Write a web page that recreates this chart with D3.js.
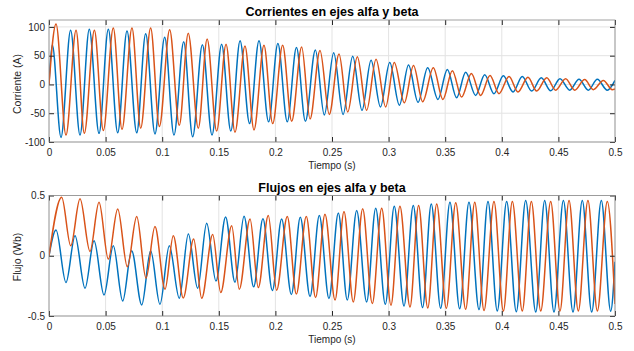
<!DOCTYPE html>
<html>
<head>
<meta charset="utf-8">
<script src="https://d3js.org/d3.v7.min.js"></script>
<style>
  body { margin: 0; background: #fff; }
  svg { display: block; font-family: 'Liberation Sans', Arial, Helvetica, sans-serif; }
  .tick text { fill: #262626; font-size: 10px; }
  .tick line { stroke: #262626; }
</style>
</head>
<body>
<script>
// extrema [t (s), value]; the curve joins them
const corrienteAlfa = [
  [0, 0], [0.0029, 69], [0.0106, -92], [0.0191, 94], [0.0274, -88], [0.0356, 96], [0.0442, -85],
  [0.0524, 96], [0.0607, -84], [0.0689, 93], [0.0775, -84], [0.0854, 88], [0.0936, -86],
  [0.1022, 82], [0.1104, -88], [0.1190, 74], [0.1269, -91], [0.1355, 69], [0.1440, -88],
  [0.1525, 70], [0.1606, -81], [0.1688, 76], [0.1772, -68], [0.1855, 76], [0.1940, -65],
  [0.2022, 71], [0.2105, -65], [0.2186, 64], [0.2265, -64], [0.2353, 60], [0.2432, -53],
  [0.2515, 55], [0.2598, -52], [0.2683, 49], [0.2765, -45], [0.2845, 42], [0.2928, -39],
  [0.3010, 38], [0.3095, -36], [0.3176, 34], [0.3260, -31], [0.3345, 29], [0.3436, -26],
  [0.3519, 26], [0.3601, -23], [0.3681, 21], [0.3769, -19], [0.3849, 17], [0.3931, -16],
  [0.4014, 15], [0.4099, -13], [0.4181, 14], [0.4264, -11.5], [0.4349, 11.5], [0.4432, -11],
  [0.4514, 10], [0.4600, -10], [0.4682, 9], [0.4764, -10], [0.4844, 9], [0.4932, -10], [0.5, 7]
]
const corrienteBeta = [
  [0, 0], [0.0062, 105], [0.0150, -88], [0.0239, 94], [0.0312, -85], [0.0401, 94], [0.0480, -80],
  [0.0568, 98], [0.0645, -78], [0.0733, 98], [0.0810, -76], [0.0898, 98], [0.0975, -73],
  [0.1066, 95], [0.1151, -71], [0.1230, 89], [0.1319, -76], [0.1397, 79], [0.1481, -81],
  [0.1564, 70], [0.1643, -83], [0.1731, 67], [0.1811, -79], [0.1899, 68], [0.1976, -68],
  [0.2064, 68], [0.2144, -64], [0.2232, 65], [0.2306, -60], [0.2394, 59], [0.2476, -52],
  [0.2562, 53], [0.2639, -48], [0.2724, 48], [0.2806, -45], [0.2889, 44], [0.2974, -39],
  [0.3050, 38], [0.3139, -32], [0.3220, 33], [0.3301, -30], [0.3395, 29], [0.3480, -26],
  [0.3563, 24], [0.3645, -22], [0.3731, 19], [0.3813, -19], [0.3896, 15.5], [0.3975, -16],
  [0.4064, 14], [0.4143, -13], [0.4231, 12.5], [0.4308, -11.5], [0.4397, 11.5], [0.4476, -10],
  [0.4564, 10], [0.4644, -10], [0.4732, 8.5], [0.4808, -9], [0.4897, 7], [0.4976, -9], [0.5, -8]
]
const flujoAlfa = [
  [0, 0], [0.0062, 0.214], [0.0150, -0.222], [0.0230, 0.167], [0.0318, -0.27], [0.0398, 0.125],
  [0.0486, -0.325], [0.0568, 0.083], [0.0651, -0.375], [0.0730, 0.042], [0.0819, -0.408],
  [0.0898, 0.042], [0.0980, -0.403], [0.1063, 0.083], [0.1151, -0.353], [0.1231, 0.18],
  [0.1313, -0.27], [0.1393, 0.27], [0.1475, -0.21], [0.1560, 0.322], [0.1643, -0.22],
  [0.1723, 0.327], [0.1808, -0.258], [0.1890, 0.307], [0.1973, -0.288], [0.2055, 0.305],
  [0.2141, -0.322], [0.2220, 0.32], [0.2306, -0.338], [0.2388, 0.333], [0.2473, -0.354],
  [0.2556, 0.355], [0.2635, -0.367], [0.2718, 0.375], [0.2806, -0.383], [0.2886, 0.394],
  [0.2971, -0.403], [0.3050, 0.41], [0.3136, -0.417], [0.3218, 0.417], [0.3300, -0.43],
  [0.3377, 0.43], [0.3460, -0.436], [0.3542, 0.444], [0.3628, -0.44], [0.3710, 0.444],
  [0.3799, -0.447], [0.3878, 0.45], [0.3960, -0.458], [0.4043, 0.45], [0.4128, -0.465],
  [0.4211, 0.458], [0.4300, -0.467], [0.4379, 0.458], [0.4461, -0.467], [0.4544, 0.458],
  [0.4629, -0.467], [0.4711, 0.458], [0.4794, -0.467], [0.4879, 0.458], [0.4962, -0.46], [0.5, -0.05]
]
const flujoBeta = [
  [0, 0], [0.0112, 0.486], [0.0192, 0.083], [0.0274, 0.472], [0.0362, 0.036], [0.0442, 0.444],
  [0.0524, -0.028], [0.0607, 0.389], [0.0692, -0.092], [0.0775, 0.325], [0.0857, -0.186],
  [0.0936, 0.242], [0.1025, -0.278], [0.1098, 0.167], [0.1186, -0.35], [0.1278, 0.139],
  [0.1349, -0.353], [0.1446, 0.176], [0.1517, -0.305], [0.1614, 0.25], [0.1681, -0.278],
  [0.1776, 0.305], [0.1849, -0.264], [0.1937, 0.333], [0.2011, -0.286], [0.2105, 0.325],
  [0.2185, -0.317], [0.2273, 0.325], [0.2355, -0.347], [0.2438, 0.345], [0.2527, -0.367],
  [0.2606, 0.367], [0.2688, -0.383], [0.2771, 0.39], [0.2856, -0.397], [0.2939, 0.394],
  [0.3021, -0.41], [0.3100, 0.41], [0.3189, -0.425], [0.3265, 0.417], [0.3346, -0.433],
  [0.3425, 0.43], [0.3510, -0.436], [0.3593, 0.44], [0.3681, -0.444], [0.3761, 0.444],
  [0.3843, -0.455], [0.3931, 0.45], [0.4014, -0.458], [0.4093, 0.45], [0.4181, -0.458],
  [0.4261, 0.45], [0.4344, -0.458], [0.4432, 0.45], [0.4514, -0.458], [0.4594, 0.458],
  [0.4676, -0.458], [0.4761, 0.458], [0.4844, -0.458], [0.4932, 0.45], [0.5, -0.40]
]

const xTicks = [0, 0.05, 0.1, 0.15, 0.2, 0.25, 0.3, 0.35, 0.4, 0.45, 0.5]
const xTickLabels = ['0', '0.05', '0.1', '0.15', '0.2', '0.25', '0.3', '0.35', '0.4', '0.45', '0.5']
const corrienteTicks = [-100, -50, 0, 50, 100]
const corrienteTickLabels = ['-100', '-50', '0', '50', '100']
const flujoTicks = [-0.5, 0, 0.5]
const flujoTickLabels = ['-0.5', '0', '0.5']

const width = 634, height = 351
const left = 49, right = 615
const colors = ['#0072BD', '#D95319']

const svg = d3.select('body').append('svg')
  .attr('width', width)
  .attr('height', height)

const x = d3.scaleLinear().domain([0, 0.5]).range([left, right])

function drawPanel(p, id) {
  const y = d3.scaleLinear().domain(p.yDomain).range([p.bottom, p.top])
  const g = svg.append('g')

  g.append('clipPath').attr('id', id)
    .append('rect')
    .attr('x', left).attr('y', p.top)
    .attr('width', right - left).attr('height', p.bottom - p.top)

  // grid
  g.append('g').selectAll('line').data(xTicks).enter().append('line')
    .attr('x1', d => x(d)).attr('x2', d => x(d))
    .attr('y1', p.top).attr('y2', p.bottom)
    .attr('stroke', '#e3e3e3')
  g.append('g').selectAll('line').data(p.yTicks).enter().append('line')
    .attr('x1', left).attr('x2', right)
    .attr('y1', d => y(d)).attr('y2', d => y(d))
    .attr('stroke', '#e3e3e3')

  // signals
  const line = d3.line()
    .x(d => x(d[0]))
    .y(d => y(d[1]))
    .curve(d3.curveMonotoneX)
  g.append('g').attr('clip-path', 'url(#' + id + ')')
    .selectAll('path').data(p.series).enter().append('path')
    .attr('d', d => line(d))
    .attr('fill', 'none')
    .attr('stroke', (d, i) => colors[i])
    .attr('stroke-width', 1.5)

  // axes, ticks pointing inwards like matlab
  const xAxis = d3.axisBottom(x).tickValues(xTicks)
    .tickFormat((d, i) => xTickLabels[i])
    .tickSizeInner(-5).tickSizeOuter(0).tickPadding(7)
  g.append('g').attr('transform', 'translate(0,' + p.bottom + ')').call(xAxis)
  g.append('g').attr('transform', 'translate(0,' + p.top + ')')
    .call(d3.axisTop(x).tickValues(xTicks).tickFormat('').tickSizeInner(-5).tickSizeOuter(0))

  const yAxis = d3.axisLeft(y).tickValues(p.yTicks)
    .tickFormat((d, i) => p.yTickLabels[i])
    .tickSizeInner(-5).tickSizeOuter(0).tickPadding(4)
  g.append('g').attr('transform', 'translate(' + left + ',0)').call(yAxis)
  g.append('g').attr('transform', 'translate(' + right + ',0)')
    .call(d3.axisRight(y).tickValues(p.yTicks).tickFormat('').tickSizeInner(-5).tickSizeOuter(0))

  g.selectAll('.domain').remove()
  g.append('rect')
    .attr('x', left).attr('y', p.top)
    .attr('width', right - left).attr('height', p.bottom - p.top)
    .attr('fill', 'none')
    .attr('stroke', '#8a8a8a')
    .attr('stroke-width', 0.8)

  // labels
  g.append('text')
    .attr('x', (left + right) / 2).attr('y', p.top - 3.8)
    .attr('text-anchor', 'middle')
    .style('font-size', '12.5px').style('font-weight', 'bold')
    .text(p.title)
  g.append('text')
    .attr('x', (left + right) / 2).attr('y', p.bottom + 27)
    .attr('text-anchor', 'middle')
    .style('font-size', '10px').attr('fill', '#262626')
    .text('Tiempo (s)')
  g.append('text')
    .attr('transform', 'translate(21,' + p.labelMid + ') rotate(-90)')
    .attr('text-anchor', 'middle')
    .style('font-size', '10.5px').attr('fill', '#262626')
    .text(p.ylabel)
}

drawPanel({
  top: 20, bottom: 142, yDomain: [-100, 112], labelMid: 84,
  yTicks: corrienteTicks, yTickLabels: corrienteTickLabels,
  series: [corrienteAlfa, corrienteBeta],
  title: 'Corrientes en ejes alfa y beta', ylabel: 'Corriente (A)'
}, 'clip-corriente')

drawPanel({
  top: 195.5, bottom: 316, yDomain: [-0.5, 0.5], labelMid: 257,
  yTicks: flujoTicks, yTickLabels: flujoTickLabels,
  series: [flujoAlfa, flujoBeta],
  title: 'Flujos en ejes alfa y beta', ylabel: 'Flujo (Wb)'
}, 'clip-flujo')
</script>
</body>
</html>
